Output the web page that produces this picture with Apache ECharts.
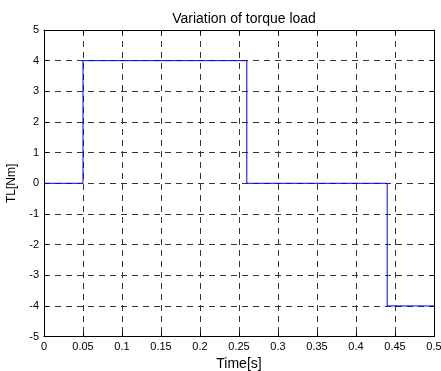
<!DOCTYPE html>
<html>
<head>
<meta charset="utf-8">
<script src="https://cdn.jsdelivr.net/npm/echarts@6/dist/echarts.min.js"></script>
<style>
  html, body { margin: 0; padding: 0; background: #fff; }
  #chart { width: 441px; height: 371px; }
</style>
</head>
<body>
<div id="chart"></div>
<script>
// step changes of the load torque
const times = [0, 0.05, 0.26, 0.44, 0.5];
const torque = [0, 4, 0, -4, -4];

const font = "'Liberation Sans', Arial, sans-serif";

const chart = echarts.init(document.getElementById("chart"));

const gridLine = { show: true, lineStyle: { color: "#333", width: 1, type: [6, 5] } };
const boxLine = { show: true, onZero: false, lineStyle: { color: "#000", width: 1 } };
const inTick = { show: true, inside: true, length: 4, lineStyle: { color: "#000" } };

const option = {
  animation: false,
  title: {
    text: "Variation of torque load",
    left: 239,
    top: 7,
    textAlign: "center",
    textStyle: { fontFamily: font, fontSize: 14, fontWeight: "normal", color: "#000" },
  },
  // bottom is fractional so the blue steps don't sit exactly on a grid line
  grid: { left: 44, right: 7, top: 30, bottom: 34.4, containLabel: false, outerBoundsMode: "none" },
  xAxis: [
    {
      type: "value",
      min: 0,
      max: 0.5,
      interval: 0.05,
      name: "Time[s]",
      nameLocation: "middle",
      nameGap: 21,
      nameTextStyle: { fontFamily: font, fontSize: 14, color: "#000" },
      axisLine: boxLine,
      axisTick: inTick,
      axisLabel: { fontFamily: font, fontSize: 11, color: "#000", margin: 5 },
      splitLine: gridLine,
    },
    {
      type: "value",
      position: "top",
      min: 0,
      max: 0.5,
      interval: 0.05,
      axisLine: boxLine,
      axisTick: inTick,
      axisLabel: { show: false },
      splitLine: { show: false },
    },
  ],
  yAxis: [
    {
      type: "value",
      min: -5,
      max: 5,
      interval: 1,
      name: "TL[Nm]",
      nameLocation: "middle",
      nameGap: 26,
      nameTextStyle: { fontFamily: font, fontSize: 12, color: "#000" },
      axisLine: boxLine,
      axisTick: inTick,
      axisLabel: { fontFamily: font, fontSize: 11, color: "#000", margin: 5 },
      splitLine: gridLine,
    },
    {
      type: "value",
      position: "right",
      min: -5,
      max: 5,
      interval: 1,
      axisLine: boxLine,
      axisTick: inTick,
      axisLabel: { show: false },
      splitLine: { show: false },
    },
  ],
  series: [
    {
      type: "line",
      step: "end",
      data: times.map((t, i) => [t, torque[i]]),
      showSymbol: false,
      lineStyle: { color: "#0000ff", width: 1 },
      zlevel: 1,
    },
  ],
};

chart.setOption(option);
</script>
</body>
</html>
